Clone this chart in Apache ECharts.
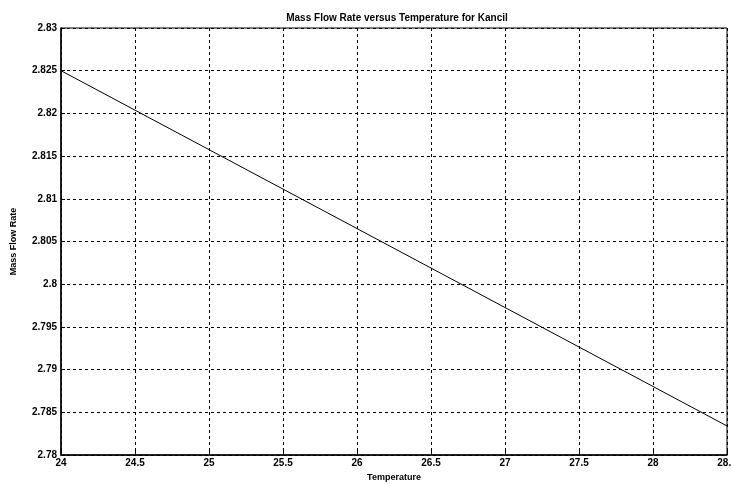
<!DOCTYPE html>
<html>
<head>
<meta charset="utf-8">
<script src="https://cdn.jsdelivr.net/npm/echarts@6/dist/echarts.min.js"></script>
<style>
  html, body { margin: 0; padding: 0; background: #fff; }
  #chart { width: 731px; height: 484px; }
</style>
</head>
<body>
<div id="chart"></div>
<script>
// Temperature (x) and mass flow rate (y) for the Kancil
const temperature = [24, 28.5];
const massFlowRate = [2.825, 2.7834];

const titleText = 'Mass Flow Rate versus Temperature for Kancil';
const xName = 'Temperature';
const yName = 'Mass Flow Rate';

const font = 'Liberation Sans, Arial, sans-serif';

const chart = echarts.init(document.getElementById('chart'), null, { renderer: 'canvas' });

const gridLine = { show: true, lineStyle: { color: '#000', width: 1, type: [3, 3] } };

chart.setOption({
  animation: false,
  backgroundColor: '#fff',
  title: {
    text: titleText,
    left: 392,
    textAlign: 'center',
    top: 8,
    textStyle: { fontFamily: font, fontSize: 10, fontWeight: 'bold', color: '#000' }
  },
  grid: {
    left: 61, right: 4, top: 28, bottom: 29,
    outerBoundsMode: 'none',
    containLabel: false,
    show: true, borderColor: '#000', borderWidth: 1, backgroundColor: 'transparent'
  },
  xAxis: {
    type: 'value',
    min: 24, max: 28.5, interval: 0.5,
    name: xName,
    nameLocation: 'middle',
    nameGap: 16,
    nameTextStyle: { fontFamily: font, fontSize: 9, fontWeight: 'bold', color: '#000' },
    axisLine: { show: true, lineStyle: { color: '#000', width: 1.5 } },
    axisTick: { show: true, inside: true, length: 4, lineStyle: { color: '#000' } },
    axisLabel: {
      margin: 3, fontFamily: font, fontSize: 10, fontWeight: 'bold', color: '#000',
      formatter: v => String(+v.toFixed(2))
    },
    splitLine: gridLine
  },
  yAxis: {
    type: 'value',
    min: 2.78, max: 2.83, interval: 0.005,
    name: yName,
    nameLocation: 'middle',
    nameGap: 43,
    nameRotate: 90,
    nameTextStyle: { fontFamily: font, fontSize: 9, fontWeight: 'bold', color: '#000' },
    axisLine: { show: true, lineStyle: { color: '#000', width: 1.5 } },
    axisTick: { show: true, inside: true, length: 4, lineStyle: { color: '#000' } },
    axisLabel: {
      margin: 4, fontFamily: font, fontSize: 10, fontWeight: 'bold', color: '#000',
      formatter: v => String(+v.toFixed(3))
    },
    splitLine: gridLine
  },
  series: [{
    type: 'line',
    data: temperature.map((t, i) => [t, massFlowRate[i]]),
    showSymbol: false,
    lineStyle: { color: '#000', width: 1 },
    itemStyle: { color: '#000' }
  }]
});
</script>
</body>
</html>
